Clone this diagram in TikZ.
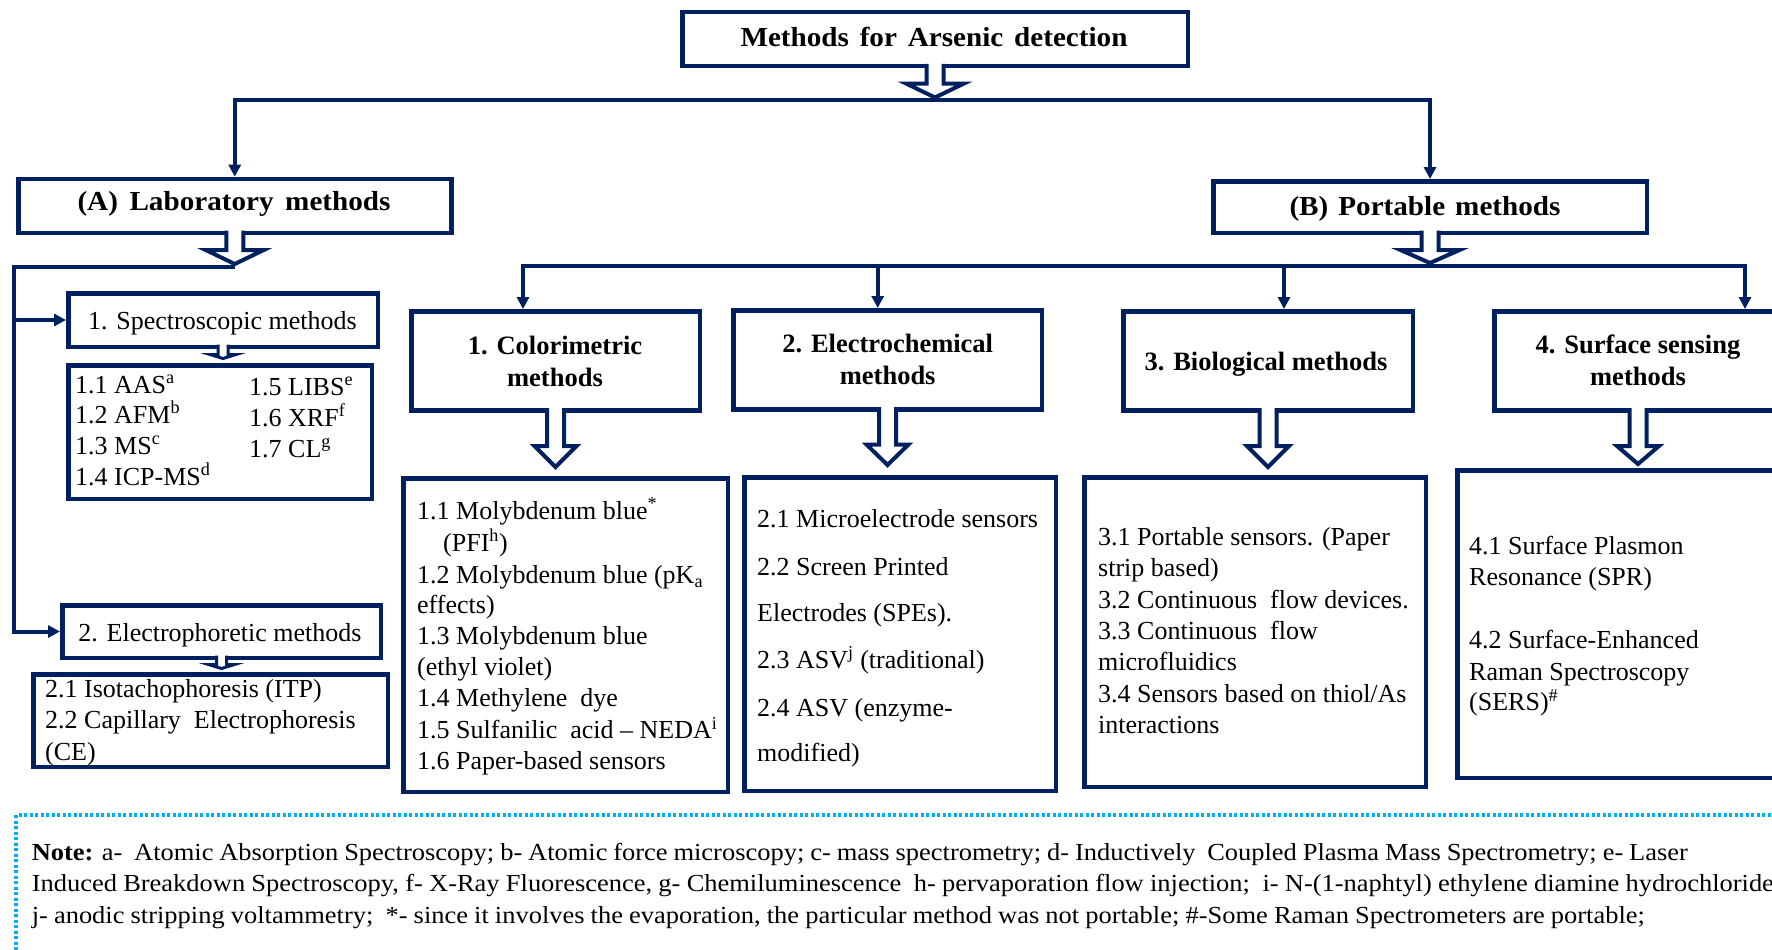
\documentclass[tikz,border=0pt]{standalone}
\usepackage{fontspec}
\setmainfont{Liberation Serif}
\newfontfamily\headfont[FakeStretch=1.06]{Liberation Serif}
\newfontfamily\notefont[FakeStretch=1.08]{Liberation Serif}
\usetikzlibrary{arrows.meta,calc}
\definecolor{navy}{RGB}{0,32,96}
\definecolor{dotcyan}{RGB}{0,176,240}
\newcommand\blockarrow[5]{%
  \draw[blk] ($(#1.south)+(-#3,-4.5)$) -- ($(#1.south |- #2)+(-#3,-#5)$) -- ($(#1.south |- #2)+(-#4,-#5)$) -- (#1.south |- #2) -- ($(#1.south |- #2)+(#4,-#5)$) -- ($(#1.south |- #2)+(#3,-#5)$) -- ($(#1.south)+(#3,-4.5)$);}
\begin{document}
\begin{tikzpicture}[x=1pt,y=-1pt,
  box/.style={draw=navy,line width=4.5pt,fill=white,inner sep=0pt},
  conn/.style={draw=navy,line width=4pt},
  arr/.style={conn,-{Triangle[length=12pt,width=12pt]}},
  blk/.style={draw=navy,line width=4pt,fill=white,line join=miter},
  sblk/.style={blk,line width=3pt},
  txt/.style={inner sep=0pt,anchor=base west,font=\fontsize{26}{31}\selectfont},
  ctxt/.style={inner sep=0pt,anchor=base,font=\fontsize{26}{31}\selectfont},
  btxt/.style={inner sep=0pt,anchor=base,font=\fontsize{26.5}{31}\selectfont\bfseries},
  htxt/.style={inner sep=0pt,anchor=base,font=\headfont\fontsize{27.5}{31}\selectfont\bfseries},
  notetxt/.style={inner sep=0pt,anchor=base west,font=\notefont\fontsize{24.5}{31}\selectfont}]
\useasboundingbox (0,0) rectangle (1772,950);
\fill[white] (0,0) rectangle (1772,950);
\clip (0,0) rectangle (1772,950);

% ---------- boxes ----------
\node[box,minimum width=505.5pt,minimum height=53.8pt] (title) at (935,39.15) {};
\node[box,minimum width=433pt,minimum height=53.8pt] (A) at (234.75,205.85) {};
\node[box,minimum width=433.5pt,minimum height=51.5pt] (B) at (1430,207) {};
\node[box,minimum width=309.5pt,minimum height=53.5pt] (spec) at (223,320) {};
\node[box,minimum width=303.5pt,minimum height=133.5pt] (speclist) at (220,432) {};
\node[box,minimum width=318.5pt,minimum height=52.5pt] (elec) at (221.5,631.5) {};
\node[box,minimum width=354.5pt,minimum height=92.5pt] (eleclist) at (210.5,720.5) {};
\node[box,minimum width=288.5pt,minimum height=99pt] (col) at (555.5,360.75) {};
\node[box,minimum width=324.5pt,minimum height=313.5pt] (collist) at (565.5,635) {};
\node[box,minimum width=308.5pt,minimum height=99pt] (echem) at (887.5,359.75) {};
\node[box,minimum width=311.5pt,minimum height=313.5pt] (echemlist) at (900,634) {};
\node[box,minimum width=289.5pt,minimum height=99pt] (bio) at (1268,360.75) {};
\node[box,minimum width=341.5pt,minimum height=309.5pt] (biolist) at (1255,632) {};
\node[box,minimum width=287.5pt,minimum height=99pt] (surf) at (1638,360.75) {};
\node[box,minimum width=340.5pt,minimum height=307.5pt] (surflist) at (1627.5,624) {};

% ---------- connector coordinates ----------
\coordinate (hubT) at (935,100);
\coordinate (hubA) at (234.75,266.5);
\coordinate (hubAL) at (14,266.5);
\coordinate (hubB) at (1430,266);
\coordinate (dC) at (523,266);
\coordinate (dE) at (877.7,266);
\coordinate (dBio) at (1284,266);
\coordinate (dS) at (1745,266);

% ---------- connectors ----------
\draw[arr] (hubT) -| (A.north);
\draw[arr] (hubT) -| (B.north);
\draw[arr] (hubA) -- (hubAL) |- (elec.west);
\draw[arr] (hubAL |- spec.west) -- (spec.west);
\draw[arr] (hubB) -- (dC) -- (dC |- col.north);
\draw[arr] (hubB) -- (dS) -- (dS |- surf.north);
\draw[arr] (dE) -- (dE |- echem.north);
\draw[arr] (dBio) -- (dBio |- bio.north);

% ---------- block arrows ----------
\coordinate (tT) at (935,97.5);
\coordinate (tA) at (234.75,264);
\coordinate (tB) at (1430,263);
\coordinate (tC) at (555.5,467);
\coordinate (tE) at (887.5,465);
\coordinate (tBio) at (1268,467);
\coordinate (tS) at (1638,464);
\coordinate (tSp) at (223,358.5);
\coordinate (tEl) at (221.5,668.5);
\blockarrow{title}{tT}{8.5}{29}{14}
\blockarrow{A}{tA}{8.5}{29}{14}
\blockarrow{B}{tB}{8.5}{29.5}{13}
\blockarrow{col}{tC}{8.5}{21}{21}
\blockarrow{echem}{tE}{8.5}{21}{20.5}
\blockarrow{bio}{tBio}{8.5}{21}{21}
\blockarrow{surf}{tS}{8.5}{21}{18}
\draw[sblk] ($(spec.south)+(-5,-4.5)$) -- ($(spec.south |- tSp)+(-5,-4)$) -- ($(spec.south |- tSp)+(-13,-4)$) -- (spec.south |- tSp) -- ($(spec.south |- tSp)+(13,-4)$) -- ($(spec.south |- tSp)+(5,-4)$) -- ($(spec.south)+(5,-4.5)$);
\draw[sblk] ($(elec.south)+(-5,-4.5)$) -- ($(elec.south |- tEl)+(-5,-4)$) -- ($(elec.south |- tEl)+(-13,-4)$) -- (elec.south |- tEl) -- ($(elec.south |- tEl)+(13,-4)$) -- ($(elec.south |- tEl)+(5,-4)$) -- ($(elec.south)+(5,-4.5)$);

% ---------- headings ----------
\node[htxt] (titleT) at (934,47) {\makebox[387pt][s]{Methods for Arsenic detection}};
\node[htxt] (AT) at (234,210.7) {\makebox[313pt][s]{(A) Laboratory methods}};
\node[htxt] (BT) at (1425,215.7) {\makebox[271pt][s]{(B) Portable methods}};
\node[ctxt] (specT) at (222.5,329.3) {1. Spectroscopic methods};
\node[ctxt] (elecT) at (220,641.7) {2. Electrophoretic methods};
\node[btxt] (colT1) at (555,354.7) {1. Colorimetric};
\node[btxt] (colT2) at (555,386.7) {methods};
\node[btxt] (echemT1) at (887.7,352.3) {2. Electrochemical};
\node[btxt] (echemT2) at (887.7,384) {methods};
\node[btxt] (bioT) at (1266,370) {3. Biological methods};
\node[btxt] (surfT1) at (1638,353) {4. Surface sensing};
\node[btxt] (surfT2) at (1638,385.7) {methods};

% ---------- spectroscopic list ----------
\node[txt] (s1) at (75,393) {1.1 AAS\textsuperscript{a}};
\node[txt] (s2) at (75,423) {1.2 AFM\textsuperscript{b}};
\node[txt] (s3) at (75,454) {1.3 MS\textsuperscript{c}};
\node[txt] (s4) at (75,485) {1.4 ICP-MS\textsuperscript{d}};
\node[txt] (s5) at (249,395) {1.5 LIBS\textsuperscript{e}};
\node[txt] (s6) at (249,426) {1.6 XRF\textsuperscript{f}};
\node[txt] (s7) at (249,457) {1.7 CL\textsuperscript{g}};

% ---------- electrophoretic list ----------
\node[txt] (e1) at (45,697) {2.1 Isotachophoresis (ITP)};
\node[txt] (e2) at (45,728) {2.2 Capillary\ \ Electrophoresis};
\node[txt] (e3) at (45,760) {(CE)};

% ---------- colorimetric list ----------
\node[txt] (c1) at (417,519) {1.1 Molybdenum blue\textsuperscript{*}};
\node[txt] (c2) at (443,551) {(PFI\textsuperscript{h})};
\node[txt] (c3) at (417,583.7) {1.2 Molybdenum blue (pK\textsubscript{a}};
\node[txt] (c4) at (417,613) {effects)};
\node[txt] (c5) at (417,644.6) {1.3 Molybdenum blue};
\node[txt] (c6) at (417,675.6) {(ethyl violet)};
\node[txt] (c7) at (417,706.6) {1.4 Methylene\ \ dye};
\node[txt] (c8) at (417,738.6) {1.5 Sulfanilic\ \ acid -- NEDA\textsuperscript{i}};
\node[txt] (c9) at (417,769.6) {1.6 Paper-based sensors};

% ---------- electrochemical list ----------
\node[txt] (m1) at (757,527) {2.1 Microelectrode sensors};
\node[txt] (m2) at (757,575) {2.2 Screen Printed};
\node[txt] (m3) at (757,621) {Electrodes (SPEs).};
\node[txt] (m4) at (757,668) {2.3 ASV\textsuperscript{j} (traditional)};
\node[txt] (m5) at (757,716) {2.4 ASV (enzyme-};
\node[txt] (m6) at (757,761) {modified)};

% ---------- biological list ----------
\node[txt] (b1) at (1098,545.8) {3.1 Portable sensors. (Paper};
\node[txt] (b2) at (1098,576.8) {strip based)};
\node[txt] (b3) at (1098,608.5) {3.2 Continuous\ \ flow devices.};
\node[txt] (b4) at (1098,639.5) {3.3 Continuous\ \ flow};
\node[txt] (b5) at (1098,670.5) {microfluidics};
\node[txt] (b6) at (1098,702.5) {3.4 Sensors based on thiol/As};
\node[txt] (b7) at (1098,733.5) {interactions};

% ---------- surface list ----------
\node[txt] (f1) at (1469,554.4) {4.1 Surface Plasmon};
\node[txt] (f2) at (1469,585.4) {Resonance (SPR)};
\node[txt] (f3) at (1469,648.4) {4.2 Surface-Enhanced};
\node[txt] (f4) at (1469,680) {Raman Spectroscopy};
\node[txt] (f5) at (1469,710.4) {(SERS)\textsuperscript{\#}};

% ---------- note ----------
\coordinate (nf0) at (16,950);
\coordinate (nf1) at (16,815);
\coordinate (nf2) at (1772,815);
\draw[dotcyan,line width=3.5pt,dash pattern=on 3pt off 2.5pt] (nf0) -- (nf1) -- (nf2);
\node[notetxt] (n1) at (31.6,860) {\makebox[1656pt][s]{\textbf{Note:} a-\ \ Atomic Absorption Spectroscopy; b- Atomic force microscopy; c- mass spectrometry; d- Inductively\ \ Coupled Plasma Mass Spectrometry; e- Laser}};
\node[notetxt] (n2) at (31.6,891.5) {\makebox[1742pt][s]{Induced Breakdown Spectroscopy, f- X-Ray Fluorescence, g- Chemiluminescence\ \ h- pervaporation flow injection;\ \ i- N-(1-naphtyl) ethylene diamine hydrochloride}};
\node[notetxt] (n3) at (31.6,923) {\makebox[1613pt][s]{j- anodic stripping voltammetry;\ \ *- since it involves the evaporation, the particular method was not portable; \#-Some Raman Spectrometers are portable;}};
\end{tikzpicture}
\end{document}
